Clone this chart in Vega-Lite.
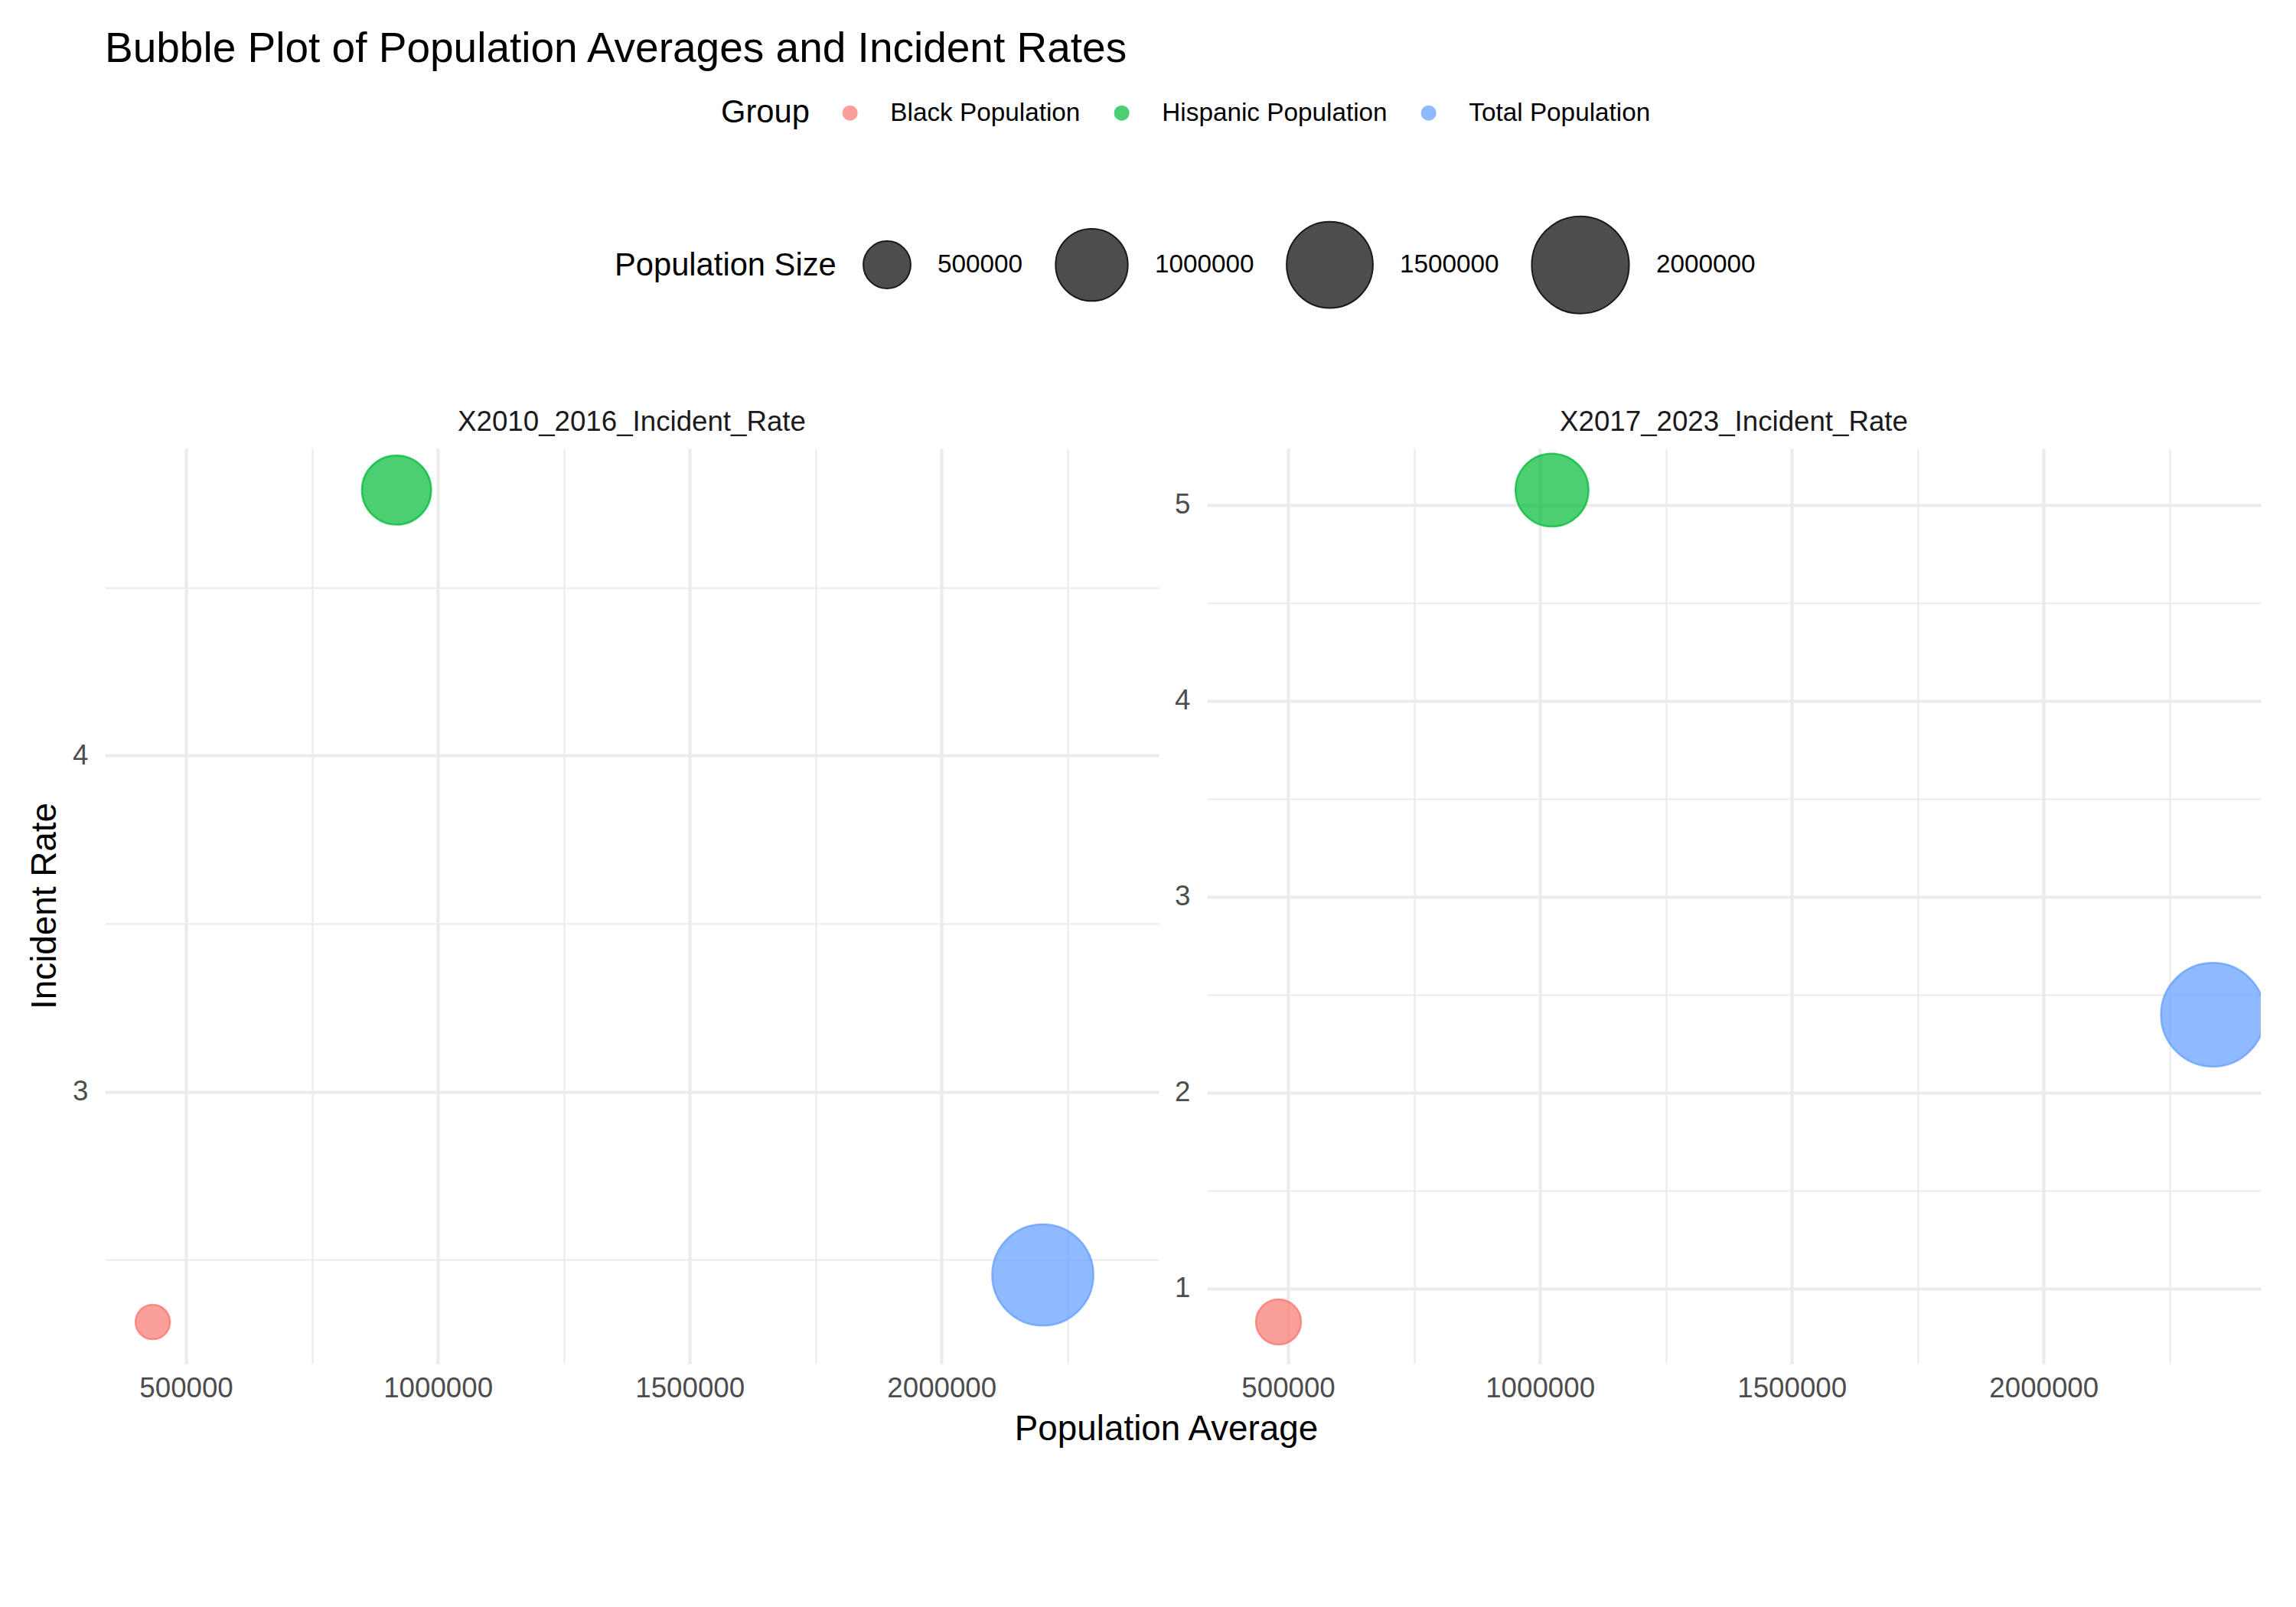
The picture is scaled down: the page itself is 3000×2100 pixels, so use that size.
{
  "$schema": "https://vega.github.io/schema/vega-lite/v6.json",
  "background": "white",
  "padding": {"left": 36, "top": 37, "right": 10, "bottom": 10},
  "title": {"text": "Bubble Plot of Population Averages and Incident Rates", "anchor": "start", "frame": "group", "fontSize": 55, "font": "Liberation Sans", "fontWeight": "normal", "color": "black", "offset": 38},
  "data": {"values": [
    {"Period": "X2010_2016_Incident_Rate", "Measure": "Incident Rate", "Group": "Black Population", "Population_Average": 434000, "Incident_Rate": 2.315},
    {"Period": "X2010_2016_Incident_Rate", "Measure": "Incident Rate", "Group": "Hispanic Population", "Population_Average": 918000, "Incident_Rate": 4.790},
    {"Period": "X2010_2016_Incident_Rate", "Measure": "Incident Rate", "Group": "Total Population", "Population_Average": 2201000, "Incident_Rate": 2.455},
    {"Period": "X2017_2023_Incident_Rate", "Measure": "Incident Rate", "Group": "Black Population", "Population_Average": 481000, "Incident_Rate": 0.829},
    {"Period": "X2017_2023_Incident_Rate", "Measure": "Incident Rate", "Group": "Hispanic Population", "Population_Average": 1024000, "Incident_Rate": 5.076},
    {"Period": "X2017_2023_Incident_Rate", "Measure": "Incident Rate", "Group": "Total Population", "Population_Average": 2336000, "Incident_Rate": 2.398}
  ]},
  "facet": {
    "column": {"field": "Period", "type": "nominal", "header": {"title": "Population Average", "titleOrient": "bottom", "labelOrient": "top", "labelFontSize": 36.7, "labelColor": "#1A1A1A", "labelFont": "Liberation Sans", "labelPadding": 15, "titleFontSize": 45.8, "titleFont": "Liberation Sans", "titleFontWeight": "normal", "titleColor": "black", "titlePadding": 3}},
    "row": {"field": "Measure", "type": "nominal", "header": {"title": null, "labelAngle": -90, "labelOrient": "left", "labelFontSize": 45.8, "labelColor": "black", "labelPadding": -11, "labelFont": "Liberation Sans"}}
  },
  "spacing": {"column": 20, "row": 0},
  "resolve": {"scale": {"y": "independent"}},
  "spec": {
    "width": 1377,
    "height": 1196,
    "mark": {"type": "circle", "opacity": 1, "fillOpacity": 0.7, "strokeOpacity": 0.75, "strokeWidth": 2.5, "clip": true},
    "encoding": {
      "x": {"field": "Population_Average", "type": "quantitative",
        "scale": {"zero": false, "nice": false, "padding": 62.6},
        "axis": {"title": null, "values": [500000, 750000, 1000000, 1250000, 1500000, 1750000, 2000000, 2250000],
          "labelExpr": "datum.value % 500000 === 0 ? format(datum.value, 'd') : ''",
          "gridWidth": {"condition": {"test": "datum.value % 500000 === 0", "value": 4.2}, "value": 2.1},
          "labelPadding": 14}},
      "y": {"field": "Incident_Rate", "type": "quantitative",
        "scale": {"zero": false, "nice": false, "padding": 54.4},
        "axis": {"title": null, "values": [1, 1.5, 2, 2.5, 3, 3.5, 4, 4.5, 5],
          "labelExpr": "datum.value % 1 === 0 ? format(datum.value, 'd') : ''",
          "gridWidth": {"condition": {"test": "datum.value % 1 === 0", "value": 4.2}, "value": 2.1},
          "labelPadding": 22}},
      "color": {"field": "Group", "type": "nominal",
        "scale": {"domain": ["Black Population", "Hispanic Population", "Total Population"], "range": ["#F8766D", "#00BA38", "#619CFF"]},
        "legend": {"title": "Group", "orient": "none", "legendX": 805, "legendY": -455, "direction": "horizontal", "titleOrient": "left", "titleAnchor": "middle", "titleBaseline": "middle",
          "symbolType": "circle", "symbolSize": 400, "symbolOpacity": 0.7, "symbolStrokeWidth": 0,
          "labelFontSize": 33.3, "titleFontSize": 41.7, "labelOffset": 36, "columnPadding": 37, "titlePadding": 36, "labelLimit": 0, "titleLimit": 0}},
      "stroke": {"field": "Group", "type": "nominal",
        "scale": {"domain": ["Black Population", "Hispanic Population", "Total Population"], "range": ["#F8766D", "#00BA38", "#619CFF"]},
        "legend": null},
      "size": {"field": "Population_Average", "type": "quantitative",
        "scale": {"type": "linear", "domain": [434000, 460000, 500000, 700000, 1000000, 1500000, 2000000, 2336000], "range": [2025, 3089, 3827, 6217, 8906, 12715, 16162, 18360]},
        "legend": {"title": "Population Size", "orient": "none", "legendX": 666, "legendY": -305, "direction": "horizontal", "titleOrient": "left", "titleAnchor": "middle", "titleBaseline": "middle",
          "values": [500000, 1000000, 1500000, 2000000], "format": "d",
          "symbolType": "circle", "symbolFillColor": "#4D4D4D", "symbolStrokeColor": "#1A1A1A", "symbolStrokeWidth": 2, "symbolOpacity": 1,
          "labelFontSize": 33.3, "titleFontSize": 41.7, "labelOffset": 34, "columnPadding": 38, "titlePadding": 34, "labelLimit": 0, "titleLimit": 0}}
    }
  },
  "config": {
    "view": {"stroke": null},
    "axis": {"domain": false, "ticks": false, "tickSize": 0, "labelFont": "Liberation Sans", "labelFontSize": 36.7, "labelColor": "#4D4D4D", "gridColor": "#EBEBEB"},
    "legend": {"labelFont": "Liberation Sans", "titleFont": "Liberation Sans", "titleFontWeight": "normal", "labelColor": "black", "titleColor": "black"}
  }
}
